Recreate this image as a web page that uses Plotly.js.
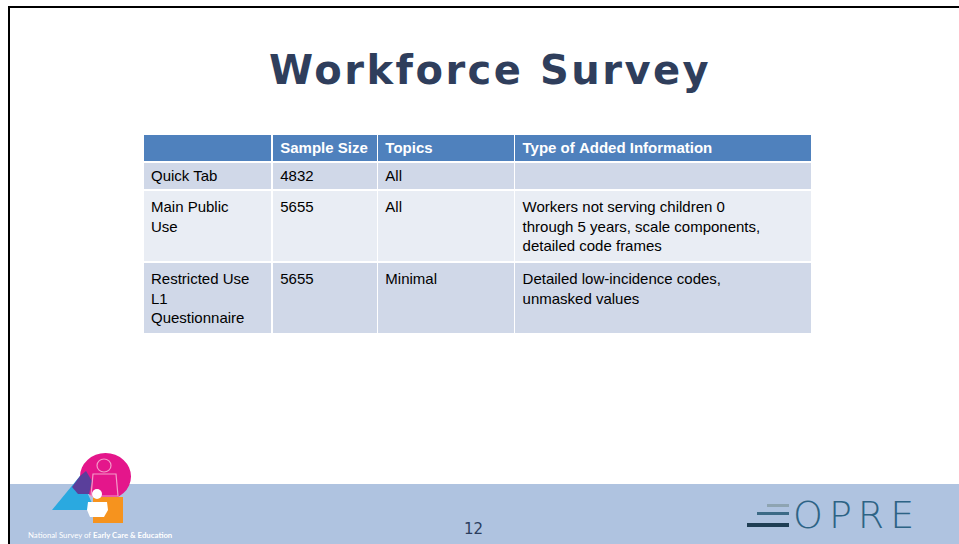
<!DOCTYPE html>
<html>
<head>
<meta charset="utf-8">
<script src="https://cdn.plot.ly/plotly-3.0.1.min.js"></script>
<style>html,body{margin:0;padding:0;background:#fff;}#chart{width:959px;height:544px;}</style>
</head>
<body>
<div id="chart"></div>
<script>
// ---- data ----
const titleText = "Workforce Survey";
const headerLabels = ["", "Sample Size", "Topics", "Type of Added Information"];
const datasets = ["Quick Tab", "Main Public<br>Use", "Restricted Use<br>L1<br>Questionnaire"];
const sampleSizes = ["4832", "5655", "5655"];
const topics = ["All", "All", "Minimal"];
const addedInfo = ["", "Workers not serving children 0<br>through 5 years, scale components,<br>detailed code frames", "Detailed low-incidence codes,<br>unmasked values"];
const pageNumber = "12";
const footerLabel = "National Survey of <b>Early Care &amp; Education</b>";
const logoLabel = "OPRE";

// ---- geometry helpers (pixel -> paper) ----
const W = 959, H = 544;
const px = x => x / W;
const py = y => 1 - y / H;

const rowFill = ["#D0D8E8", "#E9EDF4", "#D0D8E8"];
const colWidths = [129, 105, 137, 297];
const cellFont = "Liberation Sans, Arial, sans-serif";

// pad line counts so every cell in a multi-line row is laid out alike (top aligned)
const columns = [datasets, sampleSizes, topics, addedInfo];
const lineCount = s => s.split("<br>").length;
const rowLines = datasets.map((_, r) => Math.max(...columns.map(c => lineCount(c[r]))));
const cellValues = columns.map(col => col.map((v, r) => {
  let out = v;
  if (rowLines[r] > 1) { for (let k = lineCount(v); k < rowLines[r]; k++) out += "<br> "; }
  return out;
}));
// keep header labels on one line (no auto-wrap)
const headerValues = headerLabels.map(h => h.replace(/ /g, "\u00a0"));

const table = {
  type: "table",
  domain: {x: [px(143), px(813)], y: [py(337), py(134)]},
  columnwidth: colWidths,
  header: {
    values: headerValues,
    align: "left",
    height: 28,
    fill: {color: "#4F81BD"},
    line: {color: "#FFFFFF", width: 1.5},
    font: {family: cellFont, size: 15, color: "#FFFFFF", weight: "bold"}
  },
  cells: {
    values: cellValues,
    align: "left",
    height: 28,
    fill: {color: [rowFill, rowFill, rowFill, rowFill]},
    line: {color: "#FFFFFF", width: 1.5},
    font: {family: cellFont, size: 15, color: "#000000"}
  }
};

function rect(x0, y0, x1, y1, color, extra) {
  return Object.assign({type: "rect", xref: "paper", yref: "paper", x0: px(x0), x1: px(x1), y0: py(y1), y1: py(y0), fillcolor: color, line: {width: 0}, layer: "above"}, extra || {});
}
function circ(x0, y0, x1, y1, color, extra) {
  return Object.assign({type: "circle", xref: "paper", yref: "paper", x0: px(x0), x1: px(x1), y0: py(y1), y1: py(y0), fillcolor: color, line: {width: 0}, layer: "above"}, extra || {});
}
function poly(pts, color, extra) {
  const d = pts.map((p, i) => (i ? "L" : "M") + px(p[0]).toFixed(5) + "," + py(p[1]).toFixed(5)).join(" ") + " Z";
  return Object.assign({type: "path", xref: "paper", yref: "paper", path: d, fillcolor: color, line: {width: 0}, layer: "above"}, extra || {});
}

const shapes = [
  // footer band
  rect(10, 484, 959, 544, "#AFC3E0", {layer: "below"}),
  // slide border
  {type: "line", xref: "paper", yref: "paper", x0: px(8), x1: px(959), y0: py(7), y1: py(7), line: {color: "#000", width: 2}},
  {type: "line", xref: "paper", yref: "paper", x0: px(9), x1: px(9), y0: py(6), y1: py(544), line: {color: "#000", width: 2}},
  // NSECE logo
  poly([[52, 510], [80, 476], [95, 510]], "#2AA9E0"),
  circ(80, 453, 131, 500, "#E4168B"),
  poly([[72, 487], [80, 476], [86, 471], [92, 481], [89, 494], [78, 494]], "#5A3F9B"),
  rect(93, 497, 123, 523, "#F6931E"),
  circ(97, 459, 111, 472, "rgba(0,0,0,0)", {line: {color: "#F39BC9", width: 1.2}}),
  poly([[93, 474], [116, 474], [118, 496], [91, 496]], "rgba(0,0,0,0)", {line: {color: "#F39BC9", width: 1.2}}),
  circ(92, 489, 102, 499, "#FFFFFF"),
  poly([[88, 502], [107, 502], [108, 510], [104, 517], [90, 517], [87, 510]], "#FFFFFF"),
  // OPRE bars
  rect(767, 504, 789, 507, "#8EA4B2"),
  rect(757, 512, 789, 515, "#3C6A86"),
  rect(747, 523, 789, 527, "#1F3E54")
];

const annotations = [
  {text: '<b><span style="letter-spacing:2.5px">' + titleText + '</span></b>', xref: "paper", yref: "paper", x: px(490), y: py(70), xanchor: "center", yanchor: "middle", showarrow: false,
   font: {family: "DejaVu Sans, Verdana, sans-serif", size: 40, color: "#2F3E5C"}},
  {text: pageNumber, xref: "paper", yref: "paper", x: px(473), y: py(529), xanchor: "center", yanchor: "middle", showarrow: false,
   font: {family: "DejaVu Sans, Verdana, sans-serif", size: 15, color: "#2B3E5E"}},
  {text: footerLabel, xref: "paper", yref: "paper", x: px(26), y: py(535), xanchor: "left", yanchor: "middle", showarrow: false,
   font: {family: "Lato, sans-serif", size: 7.8, color: "#FFFFFF"}},
  {text: '<span style="letter-spacing:6px">' + logoLabel + '</span>', xref: "paper", yref: "paper", x: px(791), y: py(515), xanchor: "left", yanchor: "middle", showarrow: false,
   font: {family: "DejaVu Sans, sans-serif", size: 38, color: "#2D6385", weight: 200}}
];

Plotly.newPlot("chart", [table], {
  width: W, height: H,
  margin: {l: 0, r: 0, t: 0, b: 0},
  paper_bgcolor: "#FFFFFF",
  plot_bgcolor: "#FFFFFF",
  showlegend: false,
  shapes: shapes,
  annotations: annotations
}, {displayModeBar: false, staticPlot: true});
</script>
</body>
</html>
